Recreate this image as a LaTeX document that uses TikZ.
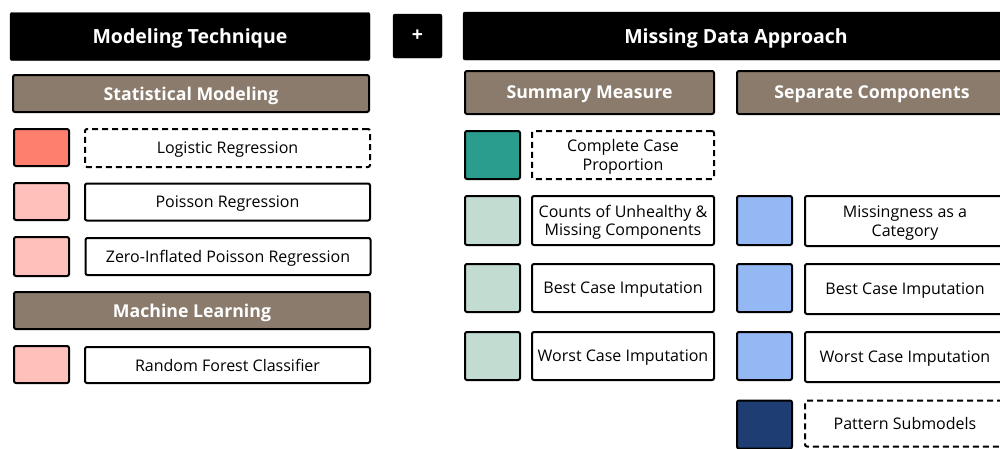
\documentclass[tikz,border=0pt]{standalone}
\usepackage{fontspec}
\setmainfont{Open Sans}
\usepackage{xcolor}
\usepackage{tikz}
\usetikzlibrary{positioning}
\definecolor{tanbox}{HTML}{8B7B6C}
\definecolor{salmon}{HTML}{FF7F6F}
\definecolor{pinkish}{HTML}{FFBFBA}
\definecolor{tealish}{HTML}{2A9D8F}
\definecolor{sage}{HTML}{C3DCD2}
\definecolor{skyblue}{HTML}{93B8F3}
\definecolor{navy}{HTML}{1E3D73}
\tikzstyle{mainhead} = [rectangle, rounded corners=2pt,
draw=black, fill=black, text=white,
text depth=0pt,
font=\fontsize{19.5}{22}\selectfont\bfseries,
minimum height=48pt]
\tikzstyle{subhead} = [rectangle, rounded corners=2pt,
draw=black, line width=2pt, fill=tanbox, text=white,
text depth=0pt,
font=\fontsize{17.7}{20}\selectfont\bfseries]
\tikzstyle{swatch} = [rectangle, rounded corners=2pt,
draw=black, line width=2pt,
minimum width=55pt]
\tikzstyle{method} = [rectangle, rounded corners=2pt,
draw=black, line width=2pt, fill=white,
align=center, text centered,
text depth=0pt,
font=\fontsize{16}{18.5}\selectfont]
\tikzstyle{proposed} = [method, dashed, dash pattern=on 6pt off 4pt]

\begin{document}
\begin{tikzpicture}[x=1pt, y=-1pt, inner sep=0pt, outer sep=0pt]
\useasboundingbox (0,0) rectangle (1000,448);
\clip (0,0) rectangle (1000,448);

% Headers
\node (techhead) [mainhead, minimum width=360pt] at (190,36.5) {Modeling Technique};
\node (plus) [mainhead, minimum width=49pt, minimum height=44pt] at (417.5,36) {+};
\node (misshead) [mainhead, minimum width=546pt] at (736,36) {Missing Data Approach};

% Modeling technique column
\node (statmod) [subhead, minimum width=356pt, minimum height=37pt] at (191,93.5) {Statistical Modeling};
\node (logsq) [swatch, fill=salmon, minimum height=37pt] at (41.5,147.5) {};
\node (logreg) [proposed, minimum width=285pt, minimum height=38pt] at (227.5,148) {Logistic Regression};
\node (poisq) [swatch, fill=pinkish, minimum height=37pt] at (41.5,201.5) {};
\node (poireg) [method, minimum width=285pt, minimum height=37pt] at (227.5,202) {Poisson Regression};
\node (zipsq) [swatch, fill=pinkish, minimum height=39pt] at (41.5,256.5) {};
\node (zipreg) [method, minimum width=285pt, minimum height=37pt] at (228,256.5) {Zero-Inflated Poisson Regression};
\node (mlhead) [subhead, minimum width=356pt, minimum height=37pt] at (192,310.5) {Machine Learning};
\node (rfsq) [swatch, fill=pinkish, minimum height=37pt] at (41.5,364.5) {};
\node (rfclf) [method, minimum width=285pt, minimum height=36pt] at (227.5,365) {Random Forest Classifier};

% Summary measure column
\node (summary) [subhead, minimum width=249pt, minimum height=43pt] at (589.5,92.5) {Summary Measure};
\node (ccsq) [swatch, fill=tealish, minimum height=48pt] at (492.5,155) {};
\node (ccprop) [proposed, minimum width=182pt, minimum height=48pt] at (623,155) {Complete Case\\Proportion};
\node (cntsq) [swatch, fill=sage, minimum height=49pt] at (492.5,220.5) {};
\node (counts) [method, minimum width=182pt, minimum height=49pt] at (623,220.5) {Counts of Unhealthy \&\\Missing Components};
\node (bestsq) [swatch, fill=sage, minimum height=48pt] at (492.5,288) {};
\node (bestsum) [method, minimum width=182pt, minimum height=48pt] at (623,288) {Best Case Imputation};
\node (worstsq) [swatch, fill=sage, minimum height=48pt] at (492.5,356) {};
\node (worstsum) [method, minimum width=182pt, minimum height=48pt] at (623,356) {Worst Case Imputation};

% Separate components column
\node (sepcomp) [subhead, minimum width=270pt, minimum height=43pt] at (872,92.5) {Separate Components};
\node (catsq) [swatch, fill=skyblue, minimum height=49pt] at (764.5,220.5) {};
\node (missingcat) [method, minimum width=200pt, minimum height=50pt] at (905,221) {Missingness as a\\Category};
\node (bestsepsq) [swatch, fill=skyblue, minimum height=48pt] at (764.5,288) {};
\node (bestsep) [method, minimum width=200pt, minimum height=50pt] at (905,289) {Best Case Imputation};
\node (worstsepsq) [swatch, fill=skyblue, minimum height=48pt] at (764.5,356) {};
\node (worstsep) [method, minimum width=200pt, minimum height=50pt] at (905,357) {Worst Case Imputation};
\node (patsq) [swatch, fill=navy, minimum height=48pt] at (764.5,424.5) {};
\node (patsub) [proposed, minimum width=200pt, minimum height=46pt] at (905,423.5) {Pattern Submodels};

\end{tikzpicture}
\end{document}
